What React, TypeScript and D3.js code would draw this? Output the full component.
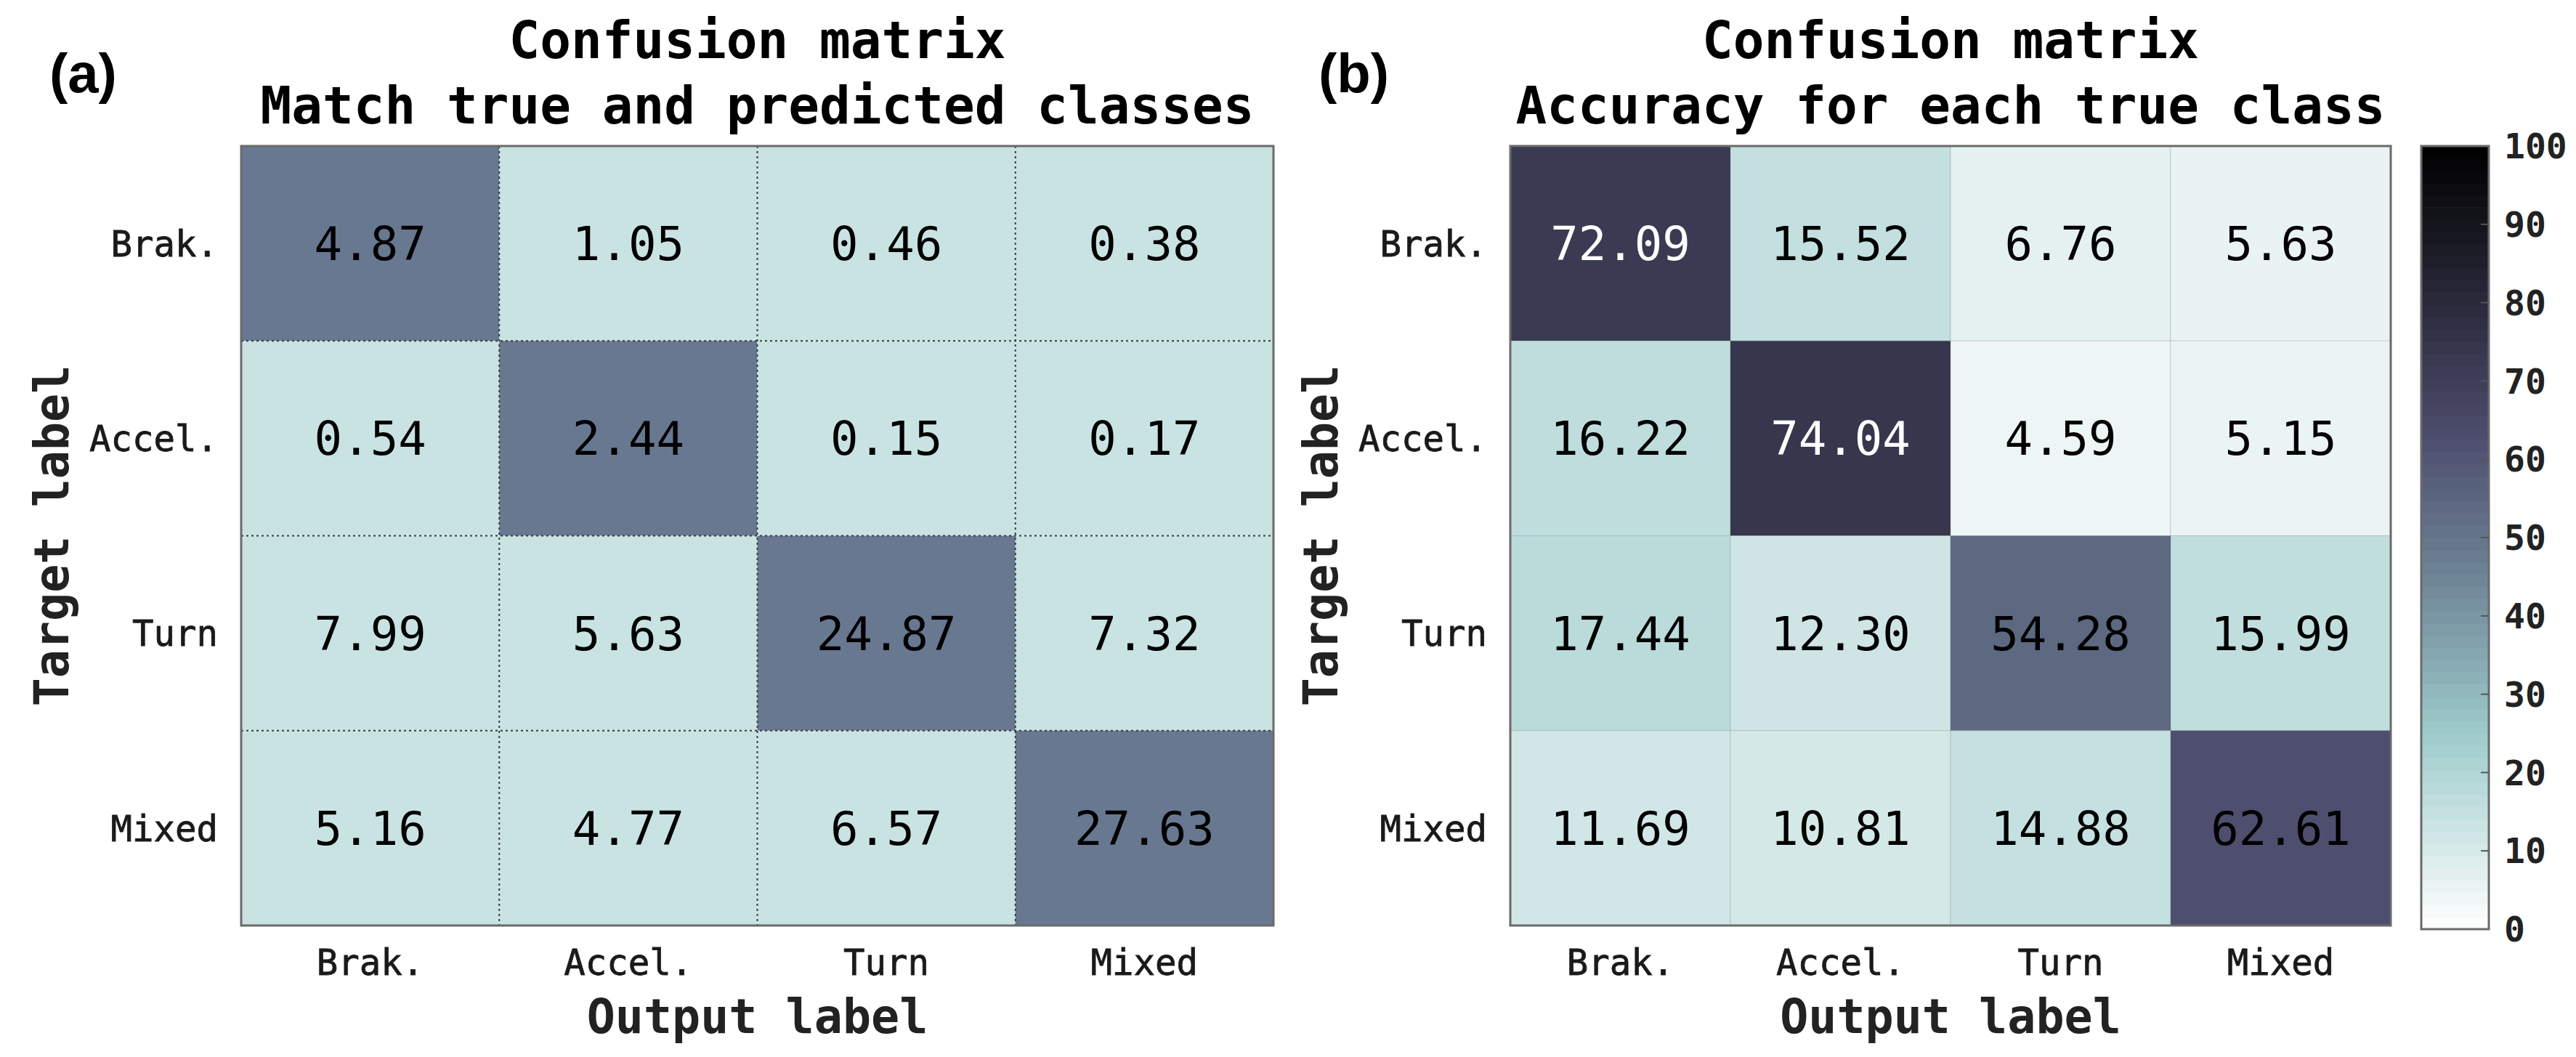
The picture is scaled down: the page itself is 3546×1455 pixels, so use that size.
import * as d3 from 'd3';

// class names, shared by both matrices (rows = target, columns = output)
const classes = ['Brak.', 'Accel.', 'Turn', 'Mixed'];

// (a) share of all samples, in %
const matchPct = [
    [4.87, 1.05, 0.46, 0.38],
    [0.54, 2.44, 0.15, 0.17],
    [7.99, 5.63, 24.87, 7.32],
    [5.16, 4.77, 6.57, 27.63],
];

// (b) accuracy for each true class, in %
const accuracyPct = [
    [72.09, 15.52, 6.76, 5.63],
    [16.22, 74.04, 4.59, 5.15],
    [17.44, 12.3, 54.28, 15.99],
    [11.69, 10.81, 14.88, 62.61],
];

const colorbarTicks = [0, 10, 20, 30, 40, 50, 60, 70, 80, 90, 100];

const W = 3546;
const H = 1455;
const MONO = '"DejaVu Sans Mono", monospace';

// bone_r-like map, a touch more cyan in the middle as in the picture
const bone = d3
    .scaleLinear<string>()
    .domain([0, 25.4, 45, 63.5, 100])
    .range(['#ffffff', '#9ccaca', '#6e8496', '#4c4c6c', '#000000'])
    .interpolate(d3.interpolateRgb)
    .clamp(true);

const matchColour = d3
    .scaleOrdinal<string, string>()
    .domain(['diag', 'off'])
    .range(['#687891', '#c8e3e2']);

interface PanelProps {
    tag: string;
    title: [string, string];
    values: number[][];
    x0: number;
    x1: number;
    y0: number;
    y1: number;
    fill: (v: number, r: number, c: number) => string;
    textFill: (v: number) => string;
    dotted: boolean;
}

function Panel(props: PanelProps) {
    const { tag, title, values, x0, x1, y0, y1, fill, textFill, dotted } = props;
    const xScale = d3.scaleBand<string>().domain(classes).range([x0, x1]);
    const yScale = d3.scaleBand<string>().domain(classes).range([y0, y1]);
    const cx = (x0 + x1) / 2;
    const cy = (y0 + y1) / 2;
    const bw = xScale.bandwidth();
    const bh = yScale.bandwidth();

    return (
        <g>
            <text x={x0 - 264} y={127} fontFamily='"Liberation Sans", Arial, sans-serif' fontWeight="bold" fontSize={76}>
                {tag}
            </text>
            <text x={cx} y={80} textAnchor="middle" fontFamily={MONO} fontWeight="bold" fontSize={71}>
                {title[0]}
            </text>
            <text x={cx} y={170} textAnchor="middle" fontFamily={MONO} fontWeight="bold" fontSize={71}>
                {title[1]}
            </text>

            {values.map((row, r) =>
                row.map((v, c) => (
                    <rect
                        key={`${r}-${c}`}
                        x={xScale(classes[c])}
                        y={yScale(classes[r])}
                        width={bw}
                        height={bh}
                        fill={fill(v, r, c)}
                        stroke={dotted ? 'none' : '#6f6f6f'}
                        strokeOpacity={0.25}
                        strokeWidth={1}
                    />
                ))
            )}

            {dotted &&
                classes.slice(1).map((k) => (
                    <g key={k}>
                        <line
                            x1={xScale(k)}
                            x2={xScale(k)}
                            y1={y0}
                            y2={y1}
                            stroke="#3a3a3a"
                            strokeWidth={2}
                            strokeDasharray="3 4"
                        />
                        <line
                            x1={x0}
                            x2={x1}
                            y1={yScale(k)}
                            y2={yScale(k)}
                            stroke="#3a3a3a"
                            strokeWidth={2}
                            strokeDasharray="3 4"
                        />
                    </g>
                ))}

            <rect x={x0} y={y0} width={x1 - x0} height={y1 - y0} fill="none" stroke="#6a6a6a" strokeWidth={3} />

            {values.map((row, r) =>
                row.map((v, c) => (
                    <text
                        key={`t${r}-${c}`}
                        x={xScale(classes[c])! + bw / 2}
                        y={yScale(classes[r])! + bh / 2}
                        dy="0.36em"
                        textAnchor="middle"
                        fontFamily={MONO}
                        fontSize={64}
                        fill={textFill(v)}
                    >
                        {v.toFixed(2)}
                    </text>
                ))
            )}

            {classes.map((k) => (
                <text
                    key={`r${k}`}
                    x={x0 - 32}
                    y={yScale(k)! + bh / 2}
                    dy="0.36em"
                    textAnchor="end"
                    fontFamily={MONO}
                    fontSize={49}
                    fill="#1a1a1a"
                    stroke="#1a1a1a"
                    strokeWidth={0.8}
                >
                    {k}
                </text>
            ))}
            {classes.map((k) => (
                <text
                    key={`c${k}`}
                    x={xScale(k)! + bw / 2}
                    y={1342}
                    textAnchor="middle"
                    fontFamily={MONO}
                    fontSize={49}
                    fill="#1a1a1a"
                    stroke="#1a1a1a"
                    strokeWidth={0.8}
                >
                    {k}
                </text>
            ))}

            <text
                transform={`translate(${x0 - 238},${cy}) rotate(-90)`}
                textAnchor="middle"
                fontFamily={MONO}
                fontWeight="bold"
                fontSize={65}
                fill="#222"
            >
                Target label
            </text>
            <text x={cx} y={1422} textAnchor="middle" fontFamily={MONO} fontWeight="bold" fontSize={65} fill="#222">
                Output label
            </text>
        </g>
    );
}

function Colorbar() {
    const x0 = 3333;
    const x1 = 3426;
    const y = d3.scaleLinear().domain([0, 100]).range([1279, 201]);
    const step = 100 / 64;
    const steps = d3.range(0, 100, step);
    return (
        <g>
            {steps.map((s) => (
                <rect
                    key={s}
                    x={x0}
                    y={y(s + step)}
                    width={x1 - x0}
                    height={y(s) - y(s + step) + 0.6}
                    fill={bone(s + step / 2)}
                />
            ))}
            <rect x={x0} y={y(100)} width={x1 - x0} height={y(0) - y(100)} fill="none" stroke="#6a6a6a" strokeWidth={3} />
            {colorbarTicks.map((t) => (
                <g key={t}>
                    {t > 0 && t < 100 && (
                        <line x1={x1 - 11} x2={x1} y1={y(t)} y2={y(t)} stroke="#555" strokeWidth={2} />
                    )}
                    <text
                        x={3447}
                        y={y(t)}
                        dy="0.36em"
                        fontFamily={MONO}
                        fontWeight="bold"
                        fontSize={48}
                        fill="#222"
                    >
                        {t}
                    </text>
                </g>
            ))}
        </g>
    );
}

export default function App() {
    return (
        <svg
            width={W}
            height={H}
            viewBox={`0 0 ${W} ${H}`}
            style={{ position: 'absolute', left: 0, top: 0, background: '#fff' }}
        >
            <rect width={W} height={H} fill="#fff" />
            <Panel
                tag="(a)"
                title={['Confusion matrix', 'Match true and predicted classes']}
                values={matchPct}
                x0={332}
                x1={1753}
                y0={201}
                y1={1274}
                fill={(_v, r, c) => matchColour(r === c ? 'diag' : 'off')}
                textFill={() => '#000'}
                dotted={true}
            />
            <Panel
                tag="(b)"
                title={['Confusion matrix', 'Accuracy for each true class']}
                values={accuracyPct}
                x0={2079}
                x1={3291}
                y0={201}
                y1={1274}
                fill={(v) => bone(v)}
                textFill={(v) => (v > 70 ? '#fff' : '#000')}
                dotted={false}
            />
            <Colorbar />
        </svg>
    );
}
